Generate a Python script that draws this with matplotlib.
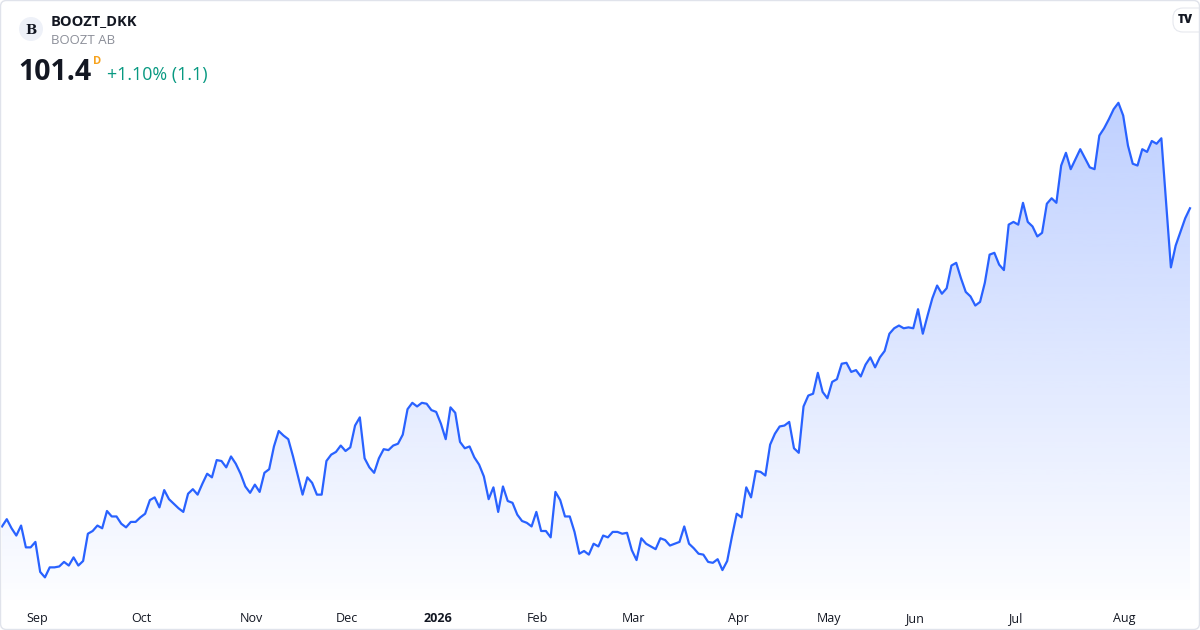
import matplotlib
matplotlib.use("Agg")
import matplotlib.pyplot as plt
import numpy as np
import pandas as pd
from matplotlib.patches import Polygon, FancyBboxPatch, Circle
from matplotlib.colors import to_rgb

plt.rcParams['font.family'] = ['Open Sans', 'DejaVu Sans']

# daily closes, BOOZT_DKK (Aug 2025 - Aug 2026)
close = [
    66.4, 67.2, 66.2, 65.4, 66.5, 64.1, 64.1, 64.7, 61.4, 60.8,
    61.9, 61.9, 62.0, 62.5, 62.1, 63.0, 62.1, 62.6, 65.6, 65.9,
    66.5, 66.2, 68.1, 67.5, 67.5, 66.7, 66.3, 66.9, 66.9, 67.4,
    67.8, 69.3, 69.6, 68.5, 70.4, 69.4, 68.9, 68.4, 68.0, 70.0,
    70.5, 69.9, 71.1, 72.2, 71.8, 73.7, 73.6, 72.9, 74.1, 73.3,
    72.2, 70.8, 70.1, 71.0, 70.2, 72.3, 72.7, 75.2, 76.9, 76.4,
    76.0, 74.1, 72.0, 69.9, 71.8, 71.2, 69.9, 69.9, 73.6, 74.3,
    74.6, 75.3, 74.7, 75.1, 77.5, 78.4, 73.9, 72.9, 72.3, 73.9,
    74.9, 74.8, 75.3, 75.5, 76.5, 79.3, 80.0, 79.6, 80.0, 79.9,
    79.2, 79.0, 77.7, 76.0, 79.5, 78.9, 75.7, 75.0, 75.2, 74.0,
    73.2, 71.9, 69.4, 70.7, 68.0, 70.8, 69.2, 69.0, 67.7, 67.0,
    66.8, 66.4, 68.0, 65.9, 65.9, 65.2, 70.2, 69.3, 67.5, 67.5,
    65.8, 63.4, 63.7, 63.3, 64.5, 64.2, 65.4, 65.2, 65.8, 65.8,
    65.6, 65.7, 63.8, 62.7, 65.1, 64.5, 64.2, 63.9, 65.1, 64.9,
    64.3, 64.5, 64.7, 66.4, 64.5, 64.0, 63.4, 63.3, 62.5, 62.4,
    62.8, 61.6, 62.6, 65.3, 67.8, 67.4, 70.7, 69.6, 72.5, 72.4,
    72.0, 75.4, 76.6, 77.4, 77.5, 77.9, 75.0, 74.5, 79.6, 80.8,
    81.0, 83.3, 81.2, 80.5, 82.3, 82.6, 84.3, 84.4, 83.4, 83.6,
    82.9, 84.2, 85.0, 83.9, 85.0, 85.7, 87.6, 88.2, 88.5, 88.2,
    88.3, 88.2, 90.3, 87.6, 89.6, 91.5, 92.9, 92.0, 92.6, 95.1,
    95.4, 93.7, 92.2, 91.7, 90.7, 91.1, 93.2, 96.3, 96.5, 95.2,
    94.6, 99.6, 99.9, 99.6, 102.0, 99.9, 99.4, 98.3, 98.7, 101.9,
    102.5, 102.0, 106.1, 107.5, 105.7, 106.8, 107.9, 106.9, 105.9, 105.7,
    109.4, 110.2, 111.2, 112.3, 113.0, 111.6, 108.3, 106.3, 106.1, 107.9,
    107.6, 108.8, 108.5, 109.1, 102.0, 94.9, 97.3, 98.8, 100.3, 101.4,
]

# Nasdaq Copenhagen closing days in the period
holidays = ['2025-12-24', '2025-12-25', '2025-12-26', '2025-12-31',
            '2026-01-01', '2026-04-02', '2026-04-03', '2026-04-06',
            '2026-05-14', '2026-05-15', '2026-05-25', '2026-06-05']
dates = pd.bdate_range('2025-08-21', periods=len(close), freq='C', holidays=holidays)

symbol = 'BOOZT_DKK'
company = 'BOOZT AB'
last_txt = '101.4'
change_txt = '+1.10% (1.1)'

line_col = '#2962ff'
W, H = 1200, 630

fig = plt.figure(figsize=(12, 6.3), dpi=100)
fig.patch.set_facecolor('white')

ax = fig.add_axes([0, 30 / H, 1, 600 / H])
x = np.arange(len(close))
y = np.array(close)
ax.set_xlim(-0.42, 251.1)
ax.set_ylim(58.31, 124.31)

# gradient area under the line
ybot = 58.31
ytop = y.max()
grad = np.linspace(0, 1, 256)
rgba = np.zeros((256, 1, 4))
rgba[:, 0, :3] = to_rgb(line_col)
rgba[:, 0, 3] = 0.01 + 0.29 * grad
im = ax.imshow(rgba, extent=[x[0], x[-1], ybot, ytop], origin='lower',
               aspect='auto', zorder=1, interpolation='bicubic')
verts = np.vstack([np.column_stack([x, y]), [[x[-1], ybot], [x[0], ybot]]])
clip = Polygon(verts, closed=True, facecolor='none', edgecolor='none')
ax.add_patch(clip)
im.set_clip_path(clip)

ax.plot(x, y, color=line_col, lw=1.6, zorder=3, solid_joinstyle='round')
ax.set_xlim(-0.42, 251.1)
ax.set_ylim(58.31, 124.31)

# month ticks at first trading day of each month
months = pd.Series(dates.to_period('M'))
first_idx = [i for i in range(1, len(dates)) if months[i] != months[i - 1]]
tick_labels = []
for i in first_idx:
    d = dates[i]
    tick_labels.append(str(d.year) if d.month == 1 else d.strftime('%b'))
ax.set_xticks(np.array(first_idx) + 0.3, tick_labels)
ax.set_yticks([])
for s in ax.spines.values():
    s.set_visible(False)
ax.tick_params(axis='x', length=0, pad=8.5, labelsize=9, labelcolor='#131722')
for lab in ax.get_xticklabels():
    if lab.get_text().isdigit():
        lab.set_fontweight('bold')
ax.set_facecolor('none')

# header
def px(xp, yp):
    return xp / W, 1 - yp / H

logo = Circle((31, H - 29), 12, transform=None, facecolor='#eef1f8', edgecolor='none')
fig.patches.append(logo)
fig.text(*px(31, 30), 'B', ha='center', va='center', fontsize=9.5, fontweight='bold',
         family=['DejaVu Serif'], color='#131722')
fig.text(*px(51, 21), symbol, ha='left', va='center', fontsize=10.5, fontweight='bold',
         color='#131722')
fig.text(*px(51, 40), company, ha='left', va='center', fontsize=9.5, color='#8c8f99')
fig.text(*px(18, 72), last_txt, ha='left', va='center', fontsize=20.5, fontweight='bold',
         color='#131722')
fig.text(*px(92.5, 61), 'D', ha='left', va='center', fontsize=8, fontweight='bold',
         color='#f7a21b')
fig.text(*px(107, 75), change_txt, ha='left', va='center', fontsize=12.9, color='#089981')

# tradingview badge
badge = FancyBboxPatch((1173, H - 32), 40, 24, boxstyle='round,pad=0,rounding_size=10',
                       transform=None, facecolor='white', edgecolor='#e6e8ee', lw=0.8)
fig.patches.append(badge)
fig.text(*px(1185, 20), 'TV', ha='center', va='center', fontsize=8.5, fontweight='heavy',
         color='#131722')

# outer frame
frame = FancyBboxPatch((0.5, 0.5), W - 1, H - 1, boxstyle='round,pad=0,rounding_size=6',
                       transform=None, facecolor='none', edgecolor='#e0e3eb', lw=1)
fig.patches.append(frame)

fig.savefig('out.png', dpi=100)
